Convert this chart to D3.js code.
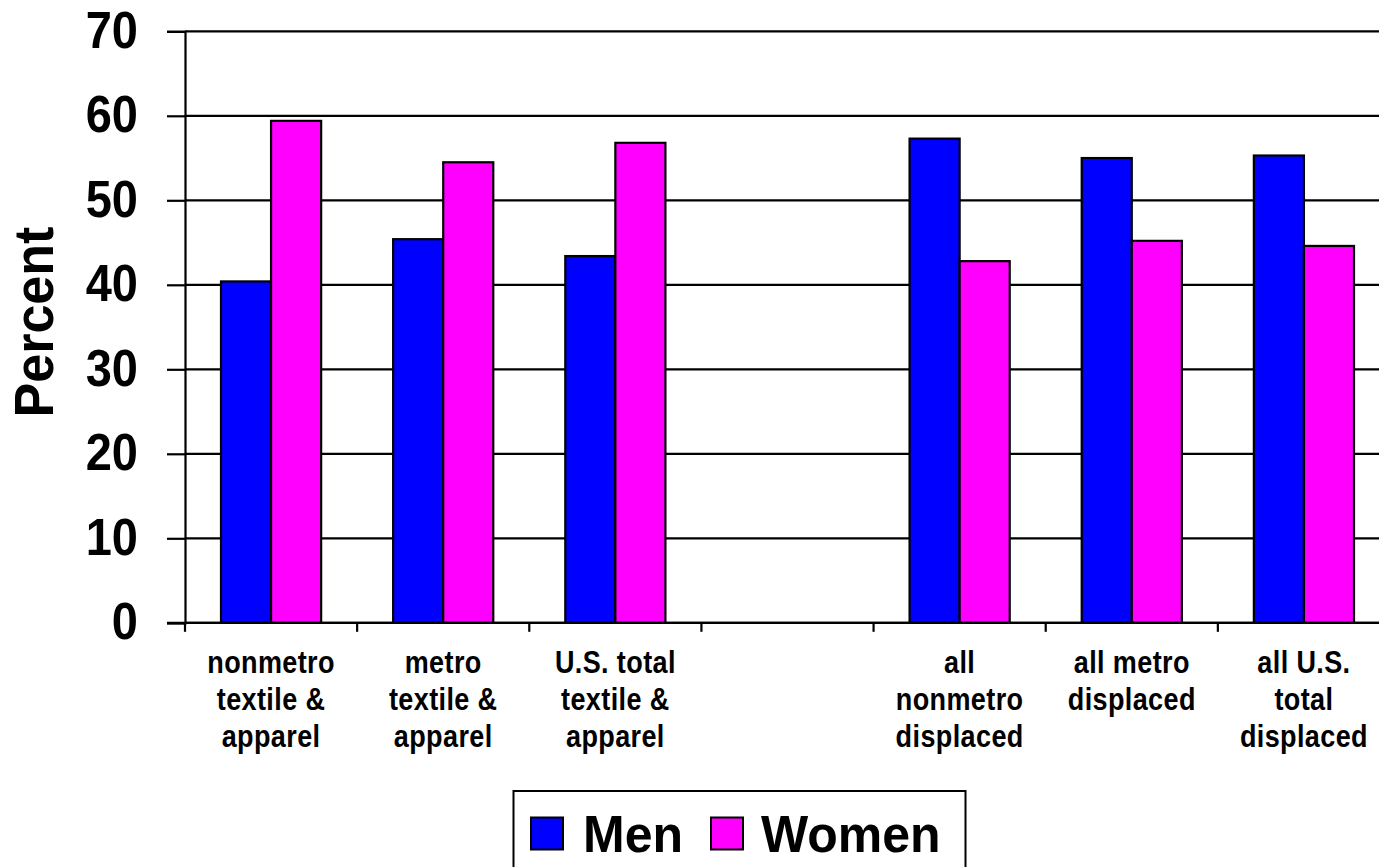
<!DOCTYPE html>
<html>
<head>
<meta charset="utf-8">
<script src="https://cdn.jsdelivr.net/npm/d3@7"></script>
<style>
  html, body { margin: 0; padding: 0; background: #fff; }
  svg { display: block; }
  text { font-family: "Liberation Sans", Arial, Helvetica, sans-serif; font-weight: bold; fill: #000; }
</style>
</head>
<body>
<svg id="chart" width="1379" height="867"></svg>
<script>
// Share of displaced workers by sex, textile & apparel vs. all displaced
const categories = ["nonmetro-ta", "metro-ta", "us-ta", "gap", "nonmetro-all", "metro-all", "us-all"];
const categoryLabels = [
  ["nonmetro", "textile &", "apparel"],
  ["metro", "textile &", "apparel"],
  ["U.S. total", "textile &", "apparel"],
  [],
  ["all", "nonmetro", "displaced"],
  ["all metro", "displaced"],
  ["all U.S.", "total", "displaced"]
];
const seriesNames = ["Men", "Women"];
const menValues = [40.4, 45.4, 43.4, null, 57.3, 55.0, 55.3];
const womenValues = [59.4, 54.5, 56.8, null, 42.8, 45.2, 44.6];
const yTicks = [0, 10, 20, 30, 40, 50, 60, 70];
const yTitle = "Percent";

const colors = { Men: "#0000ff", Women: "#ff00ff" };

const svg = d3.select("#chart");

const plot = { left: 185, right: 1390, top: 31.3, bottom: 622.8 };

const x = d3.scaleBand().domain(categories).range([plot.left, plot.right]).paddingInner(0).paddingOuter(0);
const xInner = d3.scaleBand().domain(seriesNames).range([36, x.bandwidth() - 36]).padding(0);
const y = d3.scaleLinear().domain([0, 70]).range([plot.bottom, plot.top]);

// Horizontal gridlines across the plot
svg.append("g")
  .selectAll("line")
  .data(yTicks)
  .join("line")
  .attr("x1", plot.left)
  .attr("x2", plot.right)
  .attr("y1", d => y(d))
  .attr("y2", d => y(d))
  .attr("stroke", "#000")
  .attr("stroke-width", 2.2);

// Bars
const rows = categories.map((c, i) => ({ key: c, Men: menValues[i], Women: womenValues[i] }));
const groups = svg.append("g")
  .selectAll("g")
  .data(rows)
  .join("g")
  .attr("transform", d => `translate(${x(d.key)},0)`);

groups.selectAll("rect")
  .data(d => seriesNames.filter(s => d[s] != null).map(s => ({ series: s, value: d[s] })))
  .join("rect")
  .attr("x", d => xInner(d.series))
  .attr("width", xInner.bandwidth())
  .attr("y", d => y(d.value))
  .attr("height", d => y(0) - y(d.value))
  .attr("fill", d => colors[d.series])
  .attr("stroke", "#000")
  .attr("stroke-width", 2.2);

// Y axis
const yAxis = d3.axisLeft(y).tickValues(yTicks).tickSize(18).tickFormat(d3.format("d"));
const yAxisG = svg.append("g")
  .attr("transform", `translate(${plot.left},0)`)
  .call(yAxis);
yAxisG.select(".domain").attr("stroke", "#000").attr("stroke-width", 2.2);
yAxisG.selectAll(".tick line").attr("stroke", "#000").attr("stroke-width", 2.2);
yAxisG.selectAll(".tick text")
  .attr("x", null).attr("y", null).attr("dy", null)
  .attr("transform", "translate(-47,16) scale(1,1.12)")
  .attr("text-anchor", "end")
  .style("font-size", "47px")
  .style("font-family", "'Liberation Sans', Arial, sans-serif")
  .style("font-weight", "bold");

// X axis with ticks on category boundaries
const xAxisG = svg.append("g").attr("transform", `translate(0,${plot.bottom})`);
xAxisG.append("line")
  .attr("x1", plot.left - 18).attr("x2", plot.right)
  .attr("stroke", "#000").attr("stroke-width", 2.2);
xAxisG.selectAll("line.tick")
  .data(categories)
  .join("line")
  .attr("class", "tick")
  .attr("x1", d => x(d)).attr("x2", d => x(d))
  .attr("y1", 0).attr("y2", 9)
  .attr("stroke", "#000").attr("stroke-width", 2.2);

// Multi-line category labels
const labelG = svg.append("g");
categories.forEach((c, i) => {
  const cx = x(c) + x.bandwidth() / 2;
  categoryLabels[i].forEach((line, j) => {
    labelG.append("text")
      .attr("transform", `translate(${cx},${672.5 + j * 37}) scale(1,1.16)`)
      .attr("text-anchor", "middle")
      .style("font-size", "27px")
      .style("letter-spacing", "0.4px")
      .text(line);
  });
});

// Y axis title
svg.append("text")
  .attr("transform", `translate(53,${(plot.top + plot.bottom) / 2 - 5}) rotate(-90) scale(1,1.06)`)
  .attr("text-anchor", "middle")
  .style("font-size", "52px")
  .text(yTitle);

// Legend
const legend = svg.append("g");
legend.append("rect")
  .attr("x", 513.5).attr("y", 791)
  .attr("width", 452).attr("height", 90)
  .attr("fill", "#fff").attr("stroke", "#000").attr("stroke-width", 2);

const legendItems = [
  { name: seriesNames[0], sx: 531, tx: 583 },
  { name: seriesNames[1], sx: 711, tx: 761 }
];
legend.selectAll("rect.key")
  .data(legendItems)
  .join("rect")
  .attr("class", "key")
  .attr("x", d => d.sx).attr("y", 817.5)
  .attr("width", 32).attr("height", 32)
  .attr("fill", d => colors[d.name])
  .attr("stroke", "#000").attr("stroke-width", 2);
legend.selectAll("text.key")
  .data(legendItems)
  .join("text")
  .attr("class", "key")
  .attr("transform", d => `translate(${d.tx},851.5) scale(1,1.05)`)
  .style("font-size", "50px")
  .text(d => d.name);
</script>
</body>
</html>
